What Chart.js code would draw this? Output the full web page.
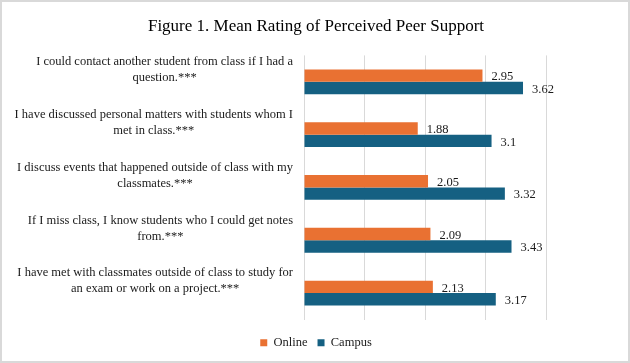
<!DOCTYPE html>
<html><head><meta charset="utf-8">
<script src="https://cdn.jsdelivr.net/npm/chart.js@4.4.1/dist/chart.umd.min.js"></script>
<style>html,body{margin:0;padding:0;background:#fff}canvas{display:block}</style>
</head><body>
<canvas id="c" width="630" height="363" style="width:630px;height:363px"></canvas>
<script>
const titleText = "Figure 1. Mean Rating of Perceived Peer Support";
const categories = [
  ["I could contact another student from class if I had a", "question.***"],
  ["I have discussed personal matters with students whom I", "met in class.***"],
  ["I discuss events that happened outside of class with my", "classmates.***"],
  ["If I miss class, I know students who I could get notes", "from.***"],
  ["I have met with classmates outside of class to study for", "an exam or work on a project.***"]
];
const seriesNames = ["Online", "Campus"];
const onlineValues = [2.95, 1.88, 2.05, 2.09, 2.13];
const campusValues = [3.62, 3.1, 3.32, 3.43, 3.17];
const xTicks = [0, 1, 2, 3, 4];

const FONT = "'Liberation Serif', 'Times New Roman', serif";
const colors = ["#E97132", "#156082"];

const framePlugin = {
  id: 'frame',
  beforeDraw(chart) {
    const ctx = chart.ctx;
    ctx.save();
    ctx.fillStyle = '#fff';
    ctx.fillRect(0, 0, chart.width, chart.height);
    ctx.restore();
  },
  afterDraw(chart) {
    const ctx = chart.ctx;
    ctx.save();
    ctx.strokeStyle = '#d9d9d9';
    ctx.lineWidth = 2;
    ctx.strokeRect(1, 1, chart.width - 2, chart.height - 2);
    ctx.restore();
  }
};

const catLabelPlugin = {
  id: 'catLabels',
  afterDraw(chart) {
    const y = chart.scales.y;
    const ctx = chart.ctx;
    ctx.save();
    ctx.font = "12.5px " + FONT;
    ctx.fillStyle = '#1a1a1a';
    ctx.textAlign = 'center';
    ctx.textBaseline = 'middle';
    const right = chart.chartArea.left - 11;
    const lh = 16;
    y.ticks.forEach((t, i) => {
      const lines = [].concat(chart.data.labels[i]);
      const w = Math.max(...lines.map(l => ctx.measureText(l).width));
      const cx = right - w / 2;
      const cy = y.getPixelForTick(i) - 12;
      lines.forEach((l, j) => {
        ctx.fillText(l, cx, cy + (j - (lines.length - 1) / 2) * lh);
      });
    });
    ctx.restore();
  }
};

const valueLabelPlugin = {
  id: 'valueLabels',
  afterDatasetsDraw(chart) {
    const ctx = chart.ctx;
    ctx.save();
    ctx.font = "12.5px " + FONT;
    ctx.fillStyle = '#1a1a1a';
    ctx.textAlign = 'left';
    ctx.textBaseline = 'middle';
    chart.data.datasets.forEach((ds, di) => {
      const meta = chart.getDatasetMeta(di);
      meta.data.forEach((bar, i) => {
        ctx.fillText(String(ds.data[i]), bar.x + 9, bar.y + 1.5);
      });
    });
    ctx.restore();
  }
};

new Chart(document.getElementById('c'), {
  type: 'bar',
  data: {
    labels: categories,
    datasets: [
      { label: seriesNames[0], data: onlineValues, backgroundColor: colors[0], borderWidth: 0 },
      { label: seriesNames[1], data: campusValues, backgroundColor: colors[1], borderWidth: 0 }
    ]
  },
  options: {
    indexAxis: 'y',
    responsive: false,
    devicePixelRatio: 1,
    animation: false,
    layout: { padding: { left: 86, right: 84, top: 0, bottom: 4 } },
    datasets: { bar: { categoryPercentage: 0.47, barPercentage: 1 } },
    scales: {
      x: {
        min: xTicks[0], max: xTicks[xTicks.length - 1],
        afterBuildTicks(scale) { scale.ticks = xTicks.map(v => ({ value: v })); },
        ticks: { display: false },
        grid: { color: '#d9d9d9', lineWidth: 1, drawTicks: false },
        border: { display: false },
        afterFit(scale) { scale.height = 7; }
      },
      y: {
        ticks: { display: false },
        grid: { display: false },
        border: { display: false },
        afterFit(scale) { scale.width = 304 - 86; }
      }
    },
    plugins: {
      title: {
        display: true, text: titleText, color: '#000',
        font: { family: FONT, size: 17, weight: 'normal' },
        padding: { top: 16, bottom: 19 }
      },
      legend: {
        position: 'bottom',
        labels: {
          color: '#1a1a1a',
          font: { family: FONT, size: 12.5 },
          boxWidth: 7, boxHeight: 7, padding: 10
        }
      },
      tooltip: { enabled: false }
    }
  },
  plugins: [framePlugin, catLabelPlugin, valueLabelPlugin]
});
</script>
</body></html>
